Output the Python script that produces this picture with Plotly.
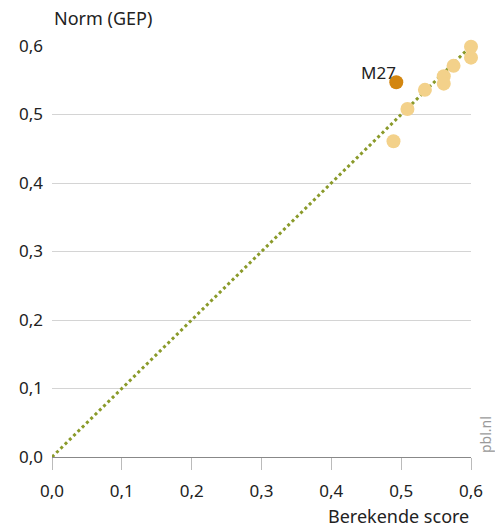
import plotly.graph_objects as go

# Berekende score (x) vs Norm GEP (y)
berekend = [0.489, 0.509, 0.534, 0.561, 0.561, 0.575, 0.600, 0.600]
norm = [0.461, 0.508, 0.536, 0.556, 0.545, 0.571, 0.599, 0.583]

m27_x = [0.493]
m27_y = [0.547]
m27_label = ["M27"]

ref_line = [0.0, 0.6]
tick_vals = [0.0, 0.1, 0.2, 0.3, 0.4, 0.5, 0.6]

FONT = "Noto Sans"

fig = go.Figure()

fig.add_trace(go.Scatter(
    x=ref_line, y=ref_line, mode="lines",
    line=dict(color="#8a9a2a", width=3, dash="dot"),
    hoverinfo="skip",
))

fig.add_trace(go.Scatter(
    x=berekend, y=norm, mode="markers",
    marker=dict(color="#f3d18a", size=14, line=dict(width=0)),
    cliponaxis=False,
))

fig.add_trace(go.Scatter(
    x=m27_x, y=m27_y, mode="markers",
    marker=dict(color="#d3860f", size=14, line=dict(width=0)),
    cliponaxis=False,
))

fig.update_layout(
    width=495, height=527,
    margin=dict(l=52, r=19, t=46, b=70),
    paper_bgcolor="white", plot_bgcolor="white",
    showlegend=False,
    separators=",.",
    font=dict(family=FONT, size=17, color="#222"),
    annotations=[
        dict(text=m27_label[0], x=m27_x[0], y=m27_y[0],
             xanchor="right", yanchor="middle", xshift=2, yshift=10,
             showarrow=False, font=dict(family=FONT, size=17, color="#222")),
        dict(text="Norm (GEP)", xref="paper", yref="paper", x=0, y=1,
             xanchor="left", yanchor="bottom", yshift=14, showarrow=False,
             font=dict(family=FONT, size=18, color="#222")),
        dict(text="Berekende score", xref="paper", yref="paper", x=1, y=0,
             xanchor="right", yanchor="top", yshift=-45, showarrow=False,
             font=dict(family=FONT, size=18, color="#222")),
        dict(text="pbl.nl", xref="paper", yref="paper", x=1, y=0,
             xanchor="left", yanchor="bottom", xshift=3, yshift=2,
             textangle=-90, showarrow=False,
             font=dict(family=FONT, size=14, color="#999")),
    ],
)

fig.update_xaxes(
    range=[0, 0.6], tickvals=tick_vals, tickformat=".1f",
    showgrid=False, zeroline=False,
    showline=True, linecolor="#888", linewidth=1,
    ticks="outside", ticklen=12, tickcolor="#bbb", tickwidth=1,
    ticklabelstandoff=7,
)
fig.update_yaxes(
    range=[0, 0.6], tickvals=tick_vals, tickformat=".1f",
    showgrid=True, gridcolor="#d4d4d4", gridwidth=1,
    zeroline=False, showline=False, ticks="",
    ticklabelstandoff=8,
)

fig.write_html("out.html", config={"displayModeBar": False},
               post_script="document.body.style.margin='0';")
